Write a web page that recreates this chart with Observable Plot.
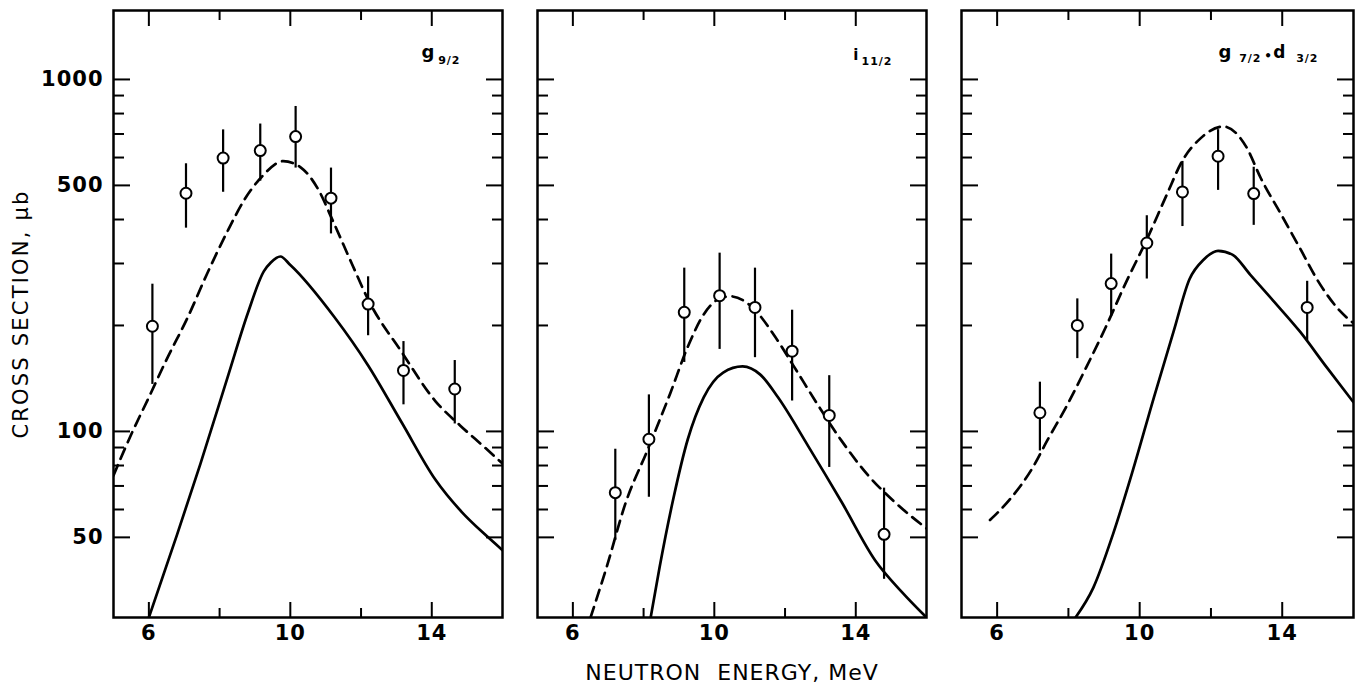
<!DOCTYPE html>
<html><head><meta charset="utf-8">
<script src="https://cdn.jsdelivr.net/npm/d3@7"></script>
<script src="https://cdn.jsdelivr.net/npm/@observablehq/plot@0.6"></script>
<style>
body{margin:0;background:#fff;}
#wrap{position:relative;width:1364px;height:691px;overflow:hidden;background:#fff;}
#wrap svg{position:absolute;top:0;background:transparent;overflow:visible;}
#wrap text{letter-spacing:1px;}
</style></head><body><div id="wrap"></div>
<script>
// ---------- axis ticks ----------
const xMajorTicks = [6, 10, 14];
const xMinorTicks = [8, 12];
const yMajorTicks = [50, 100, 500, 1000];
const yMinorTicks = [60, 70, 80, 90, 200, 300, 400, 600, 700, 800, 900];
const xDomain = [5, 16];
const yDomain = [29.6, 1570];

// ---------- panel 1 : g9/2 ----------
const p1Energy = [6.1, 7.05, 8.1, 9.15, 10.15, 11.15, 12.2, 13.2, 14.65];
const p1Sigma  = [199, 475, 598, 628, 688, 460, 230, 149, 132];
const p1Low    = [136, 378, 478, 514, 560, 364, 187, 119, 105];
const p1High   = [262, 576, 719, 747, 838, 560, 275, 180, 159];
const p1DashE  = [5.0, 5.5, 6.0, 6.5, 7.1, 7.65, 8.25, 8.7, 9.2, 9.8, 10.3, 10.8, 11.2, 11.75, 12.2, 13.15, 14.1, 14.8, 15.5, 16.0];
const p1DashV  = [75, 98, 125, 160, 211, 281, 375, 455, 530, 586, 562, 485, 397, 298, 237, 168, 122, 104, 90, 81];
const p1SolidE = [6.0, 6.8, 7.46, 8.25, 8.8, 9.25, 9.45, 9.72, 10.0, 11.25, 12.2, 13.15, 14.1, 14.85, 15.5, 16.0];
const p1SolidV = [29.6, 51, 81, 145, 217, 285, 302, 314, 297, 211, 154, 106, 73, 59, 51, 46];

// ---------- panel 2 : i11/2 ----------
const p2Energy = [7.2, 8.15, 9.15, 10.15, 11.15, 12.2, 13.25, 14.8];
const p2Sigma  = [67, 95, 218, 243, 225, 169, 111, 51];
const p2Low    = [49, 65, 157, 171, 162, 122, 79, 38];
const p2High   = [89, 127, 291, 321, 291, 221, 144, 69];
const p2DashE  = [6.5, 6.95, 7.5, 8.1, 8.75, 9.25, 9.7, 10.1, 10.45, 11.1, 11.7, 12.25, 12.95, 13.6, 14.35, 15.1, 16.0];
const p2DashV  = [29.6, 41, 63, 88, 128, 174, 215, 237, 242, 224, 187, 153, 118, 94, 75, 63, 53];
const p2SolidE = [8.2, 8.45, 8.85, 9.25, 9.7, 10.25, 10.8, 11.3, 11.8, 12.65, 13.6, 14.55, 15.3, 16.0];
const p2SolidV = [29.6, 41, 65, 95, 125, 147, 153, 145, 125, 91, 63, 43, 35, 29.6];

// ---------- panel 3 : g7/2 + d3/2 ----------
const p3Energy = [7.2, 8.25, 9.2, 10.2, 11.2, 12.2, 13.2, 14.7];
const p3Sigma  = [113, 200, 263, 343, 479, 605, 474, 225];
const p3Low    = [88, 161, 212, 271, 382, 484, 385, 181];
const p3High   = [138, 238, 319, 410, 585, 720, 563, 267];
const p3DashE  = [5.8, 6.35, 7.0, 7.4, 7.95, 8.5, 9.05, 9.6, 10.2, 10.75, 11.2, 11.7, 12.35, 13.0, 13.4, 13.95, 14.5, 15.05, 15.6, 16.0];
const p3DashV  = [56, 64, 79, 94, 118, 152, 198, 263, 351, 468, 588, 679, 735, 641, 524, 417, 331, 263, 221, 203];
const p3SolidE = [8.2, 8.7, 9.25, 9.8, 10.4, 10.95, 11.4, 11.8, 12.2, 12.6, 13.1, 13.75, 14.5, 15.25, 16.0];
const p3SolidV = [29.6, 36, 51, 77, 125, 192, 271, 308, 326, 318, 279, 235, 192, 152, 121];

const yLabel = "CROSS SECTION, μb";
const xLabel = "NEUTRON  ENERGY, MeV";

const zip2 = (E, V) => E.map((e, i) => ({e, v: V[i]}));
const pts = (E, V, L, H) => E.map((e, i) => ({e, v: V[i], lo: L[i], hi: H[i]}));

const FONT = "'DejaVu Sans', sans-serif";

function panel({left, width, mL, mR, points, dash, solid, titleParts, extra = []}) {
  const marks = [
    Plot.frame({strokeWidth: 2.5}),
    Plot.axisY(yMinorTicks, {anchor: "left", tickSize: -11, fill: "none", strokeWidth: 2, label: null}),
    Plot.axisY(yMajorTicks, {anchor: "left", tickSize: -17, fill: "none", strokeWidth: 2, label: null}),
    Plot.axisY(yMinorTicks, {anchor: "right", tickSize: -11, fill: "none", strokeWidth: 2, label: null}),
    Plot.axisY(yMajorTicks, {anchor: "right", tickSize: -17, fill: "none", strokeWidth: 2, label: null}),
    Plot.axisX(xMinorTicks, {anchor: "bottom", tickSize: -9, fill: "none", strokeWidth: 2, label: null}),
    Plot.axisX(xMajorTicks, {anchor: "bottom", tickSize: -15, fill: "none", strokeWidth: 2, label: null}),
    Plot.axisX(xMinorTicks, {anchor: "top", tickSize: -9, fill: "none", strokeWidth: 2, label: null}),
    Plot.axisX(xMajorTicks, {anchor: "top", tickSize: -15, fill: "none", strokeWidth: 2, label: null}),
    Plot.axisX(xMajorTicks, {anchor: "bottom", tickSize: 0, tickPadding: 8, fontSize: 21, fontWeight: "bold", label: null, tickFormat: d => String(d)}),
    Plot.line(dash, {x: "e", y: "v", curve: "monotone-x", strokeWidth: 2.7, strokeDasharray: "11,7", clip: true}),
    Plot.line(solid, {x: "e", y: "v", curve: "monotone-x", strokeWidth: 2.7, clip: true}),
    Plot.ruleX(points, {x: "e", y1: "lo", y2: "hi", strokeWidth: 2.2}),
    Plot.dot(points, {x: "e", y: "v", r: 5.5, fill: "white", stroke: "black", strokeWidth: 2}),
    ...titleParts.map(t => Plot.text([t.s], {text: d => d, frameAnchor: "top-right", dx: t.dx, dy: t.dy,
      textAnchor: t.anchor || "end", lineAnchor: "bottom", fontSize: t.size, fontWeight: "bold"})),
    ...extra
  ];
  const svg = Plot.plot({
    width, height: 691,
    marginLeft: mL, marginRight: mR, marginTop: 10, marginBottom: 74,
    x: {domain: xDomain, label: null},
    y: {type: "log", domain: yDomain, label: null},
    style: {fontFamily: FONT, background: "transparent", color: "black", overflow: "visible"},
    marks
  });
  svg.style.left = left + "px";
  svg.querySelectorAll("text").forEach(t => {
    if (t.textContent === yLabel) t.style.letterSpacing = "2.2px";
  });
  document.getElementById("wrap").appendChild(svg);
}

panel({
  left: 0, width: 520, mL: 113, mR: 18,
  points: pts(p1Energy, p1Sigma, p1Low, p1High),
  dash: zip2(p1DashE, p1DashV), solid: zip2(p1SolidE, p1SolidV),
  titleParts: [
    {s: "g", dx: -67, dy: 47, size: 18},
    {s: "9/2", dx: -42, dy: 53, size: 11}
  ],
  extra: [
    Plot.axisY(yMajorTicks, {anchor: "left", tickSize: 0, tickPadding: 10, fontSize: 21, fontWeight: "bold", label: null, tickFormat: d => String(d)}),
    Plot.text([yLabel], {text: d => d, frameAnchor: "left", dx: -92, rotate: -90, fontSize: 21, textAnchor: "middle", lineAnchor: "middle"})
  ]
});

panel({
  left: 520, width: 420, mL: 17, mR: 14,
  points: pts(p2Energy, p2Sigma, p2Low, p2High),
  dash: zip2(p2DashE, p2DashV), solid: zip2(p2SolidE, p2SolidV),
  titleParts: [
    {s: "i", dx: -67, dy: 49, size: 15},
    {s: "11/2", dx: -34, dy: 54, size: 11}
  ],
  extra: [
    Plot.text([xLabel], {text: d => d, frameAnchor: "bottom", dy: 55, fontSize: 22, lineAnchor: "middle", textAnchor: "middle"})
  ]
});

panel({
  left: 940, width: 424, mL: 21, mR: 11,
  points: pts(p3Energy, p3Sigma, p3Low, p3High),
  dash: zip2(p3DashE, p3DashV), solid: zip2(p3SolidE, p3SolidV),
  titleParts: [
    {s: "g", dx: -121, dy: 47, size: 18},
    {s: "7/2", dx: -92, dy: 51, size: 11},
    {s: "•", dx: -85, dy: 49, size: 12, anchor: "middle"},
    {s: "d", dx: -67, dy: 47, size: 17},
    {s: "3/2", dx: -35, dy: 51, size: 11}
  ]
});
</script>
</body></html>
